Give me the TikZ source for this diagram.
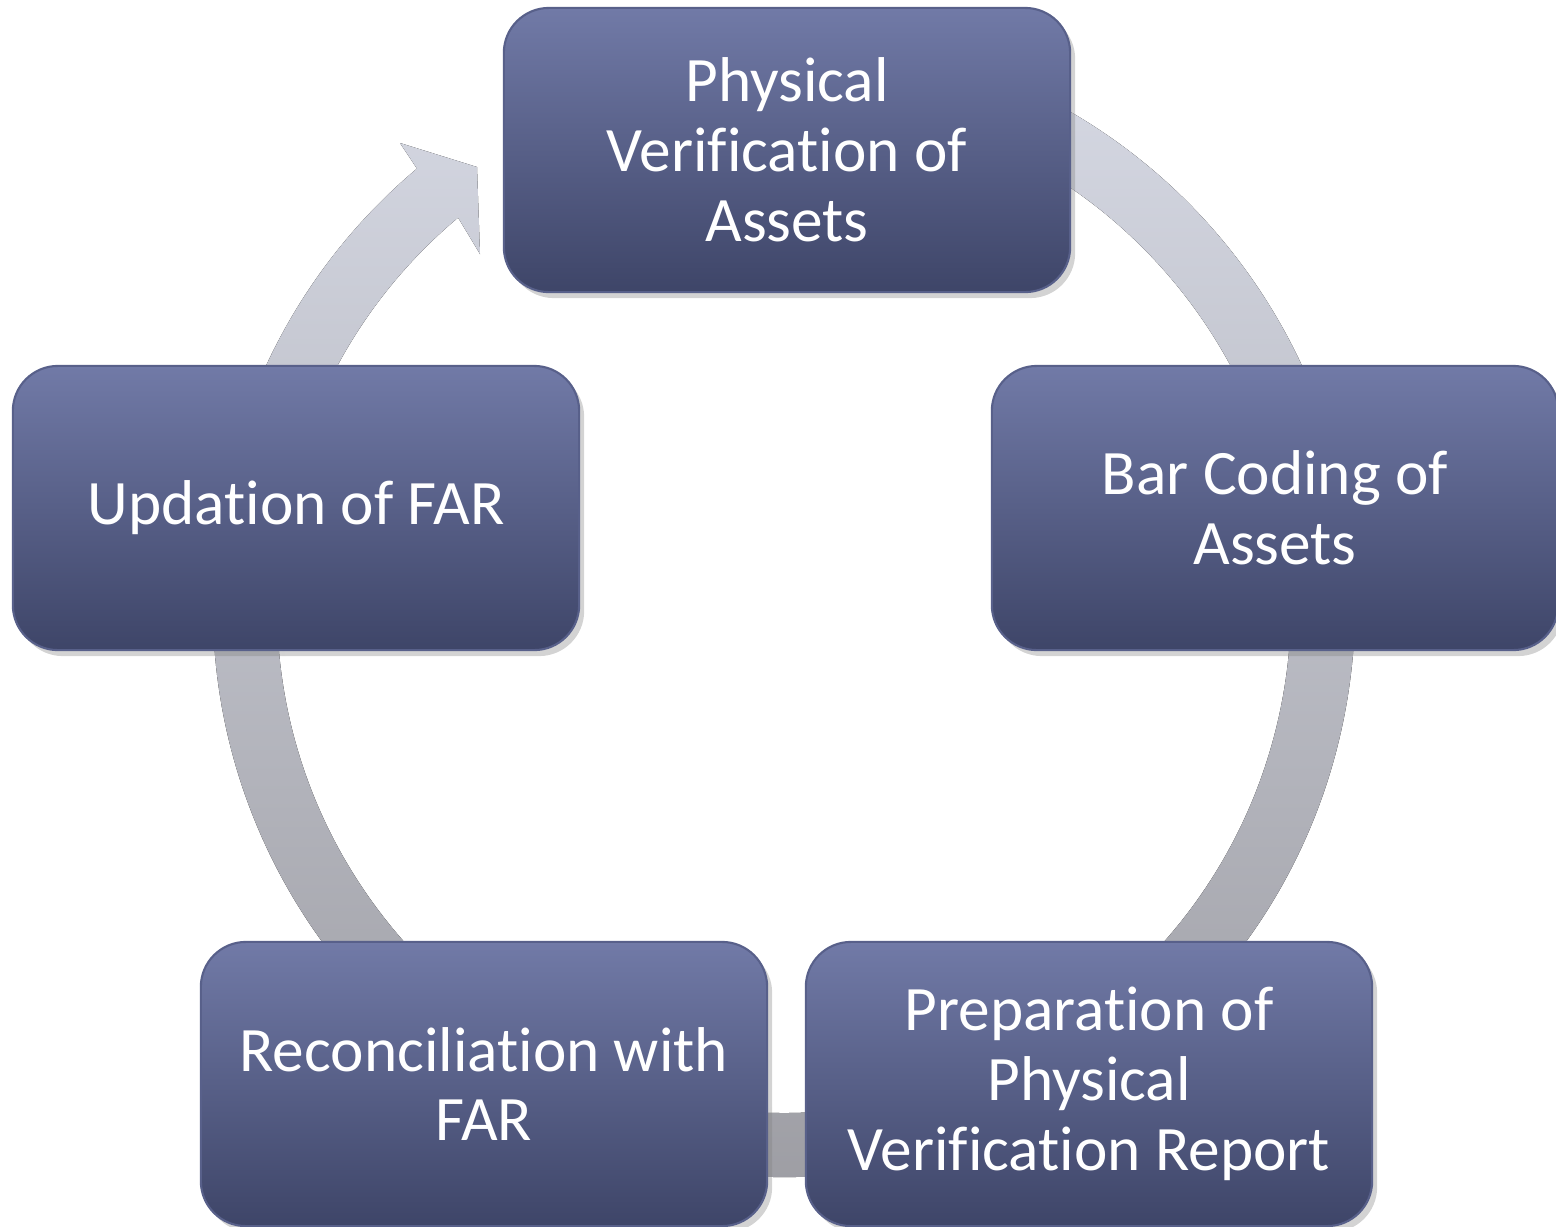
\documentclass[tikz,border=0pt]{standalone}
\usepackage{fontspec}
\setmainfont{Carlito}[Ligatures={NoCommon,NoContextual}, RawFeature={-liga;-clig;-dlig}]
\usetikzlibrary{shadows}

\definecolor{boxtop}{RGB}{113,122,167}
\definecolor{boxbottom}{RGB}{62,69,104}
\definecolor{boxedge}{RGB}{88,96,138}
\definecolor{ringtop}{RGB}{214,217,228}
\definecolor{ringbottom}{RGB}{156,156,162}

\begin{document}
\begin{tikzpicture}[x=0.01cm,y=-0.01cm,
    stage/.style={rectangle, rounded corners=0.45cm, minimum width=5.66cm,
      minimum height=2.84cm, inner sep=0pt, draw=boxedge, line width=0.6pt,
      top color=boxtop, bottom color=boxbottom,
      drop shadow={shadow xshift=0.05cm, shadow yshift=-0.06cm, opacity=0.35},
      text=white, align=center, font=\fontsize{18}{19.9}\selectfont}]
    \useasboundingbox (0,0) rectangle (1556,1226);

    % ring with the arrow head at top left
    \fill[top color=ringtop, bottom color=ringbottom, shift={(784,606)}]
        (-80:571) arc[start angle=-80, end angle=230, radius=571]
        -- (-384,-463) -- (-307,-439) -- (-304,-352)
        -- (230:507) arc[start angle=230, end angle=-80, radius=507] -- cycle;
    \draw[white, line width=0.8pt, shift={(784,606)}]
        (-60:503) arc[start angle=-60, end angle=228, radius=503];

    % the five steps
    \node[stage] (verify) at (787,150) {Physical\\Verification of\\Assets};
    \node[stage] (barcode) at (1275,508) {Bar Coding of\\Assets};
    \node[stage] (report) at (1089,1084) {Preparation of\\Physical\\Verification Report};
    \node[stage] (reconcile) at (484,1084) {Reconciliation with\\FAR};
    \node[stage] (updation) at (296,508) {Updation of FAR};
\end{tikzpicture}
\end{document}
